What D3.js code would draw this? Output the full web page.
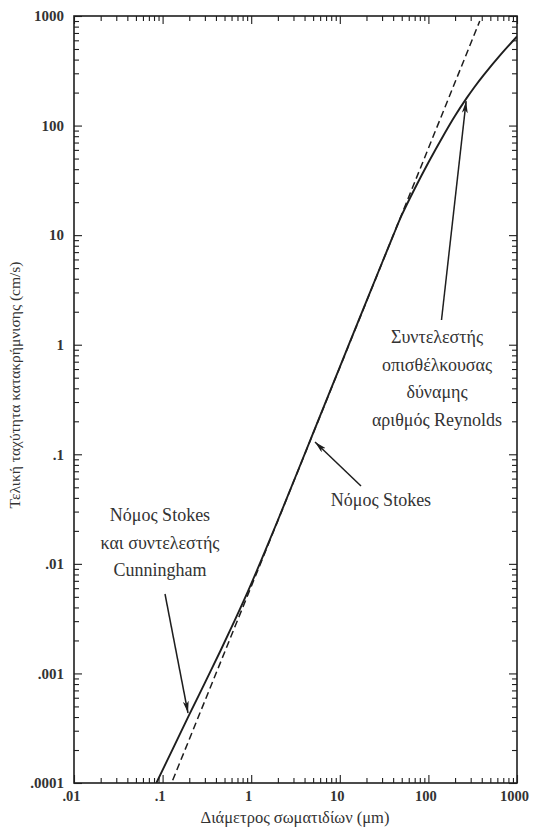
<!DOCTYPE html>
<html>
<head>
<meta charset="utf-8">
<script src="https://cdn.jsdelivr.net/npm/d3@7/dist/d3.min.js"></script>
<style>
  html, body { margin: 0; padding: 0; background: #fff; }
  svg { display: block; }
</style>
</head>
<body>
<svg id="chart" width="533" height="828"></svg>
<script>
// ---- data ----
const xTickValues = [0.01, 0.1, 1, 10, 100, 1000];
const xTickLabels = [".01", ".1", "1", "10", "100", "1000"];
const yTickValues = [0.0001, 0.001, 0.01, 0.1, 1, 10, 100, 1000];
const yTickLabels = [".0001", ".001", ".01", ".1", "1", "10", "100", "1000"];

// solid curve: actual terminal velocity (diameter in μm, velocity in cm/s)
const solidD = [0.085, 0.13, 0.2, 0.3, 0.45, 0.65, 0.9, 1.3, 2, 5, 10, 20, 30, 40, 50, 70, 100, 150, 200, 270, 330, 420, 650, 1000];
const solidV = [1.0e-4, 2.04e-4, 4.2e-4, 8.2e-4, 1.61e-3, 3.03e-3, 5.4e-3, 1.08e-2, 0.025, 0.156, 0.625, 2.5, 5.6, 9.9, 15.2, 26.5, 46, 83, 123, 178, 224, 289, 442, 650];

// dashed line: Stokes law
const dashedD = [0.13, 1, 10, 100, 380];
const dashedV = [1.06e-4, 6.2e-3, 0.62, 62, 900];

const xLabel = "Διάμετρος σωματιδίων (μm)";
const yLabel = "Τελική ταχύτητα κατακρήμνισης (cm/s)";
const noteReynolds = ["Συντελεστής", "οπισθέλκουσας", "δύναμης", "αριθμός Reynolds"];
const noteStokes = ["Νόμος Stokes"];
const noteCunningham = ["Νόμος Stokes", "και συντελεστής", "Cunningham"];

const SERIF = '"Liberation Serif", "Times New Roman", serif';

// ---- layout ----
const svg = d3.select("#chart");
const L = 74, R = 517, T = 16, B = 783;
const x = d3.scaleLog().domain([0.01, 1000]).range([L, R]);
const y = d3.scaleLog().domain([0.0001, 1000]).range([B, T]);
const ink = "#1e1e1e";
const textInk = "#333";

function minorTicks(lo, hi) {
  const out = [];
  for (let e = Math.round(Math.log10(lo)); e < Math.round(Math.log10(hi)); e++) {
    for (let k = 2; k <= 9; k++) out.push(k * Math.pow(10, e));
  }
  return out;
}
const xMinor = minorTicks(0.01, 1000);
const yMinor = minorTicks(0.0001, 1000);
const majorLen = 8, minorLen = 5;

function drawAxis(axisFn, scale, transform, major, minor) {
  const gMaj = svg.append("g").attr("transform", transform)
    .call(axisFn(scale).tickValues(major).tickSize(majorLen).tickFormat(""));
  const gMin = svg.append("g").attr("transform", transform)
    .call(axisFn(scale).tickValues(minor).tickSize(minorLen).tickFormat(""));
  [gMaj, gMin].forEach(g => {
    g.select(".domain").remove();
    g.selectAll("line").attr("stroke", ink).attr("stroke-width", 1.1);
  });
}
drawAxis(d3.axisTop, x, `translate(0,${B})`, xTickValues, xMinor);
drawAxis(d3.axisBottom, x, `translate(0,${T})`, xTickValues, xMinor);
drawAxis(d3.axisRight, y, `translate(${L},0)`, yTickValues, yMinor);
drawAxis(d3.axisLeft, y, `translate(${R},0)`, yTickValues, yMinor);

svg.append("rect").attr("x", L).attr("y", T).attr("width", R - L).attr("height", B - T)
  .attr("fill", "none").attr("stroke", ink).attr("stroke-width", 1.6);

const xl = svg.append("g").attr("transform", `translate(0,${B})`)
  .call(d3.axisBottom(x).tickValues(xTickValues).tickSize(0).tickPadding(8)
    .tickFormat((d, i) => xTickLabels[i]));
xl.select(".domain").remove();
xl.selectAll("text").attr("font-family", SERIF).attr("font-weight", "bold")
  .attr("font-size", 14.5).attr("fill", textInk).attr("dx", -3);

const yl = svg.append("g").attr("transform", `translate(${L},0)`)
  .call(d3.axisLeft(y).tickValues(yTickValues).tickSize(0).tickPadding(10)
    .tickFormat((d, i) => yTickLabels[i]));
yl.select(".domain").remove();
yl.selectAll("text").attr("font-family", SERIF).attr("font-weight", "bold")
  .attr("font-size", 15).attr("fill", textInk);

svg.append("text").attr("x", 295).attr("y", 823).attr("text-anchor", "middle")
  .attr("font-family", SERIF).attr("font-size", 16.5).attr("fill", textInk).text(xLabel);
svg.append("text").attr("transform", `translate(20,385) rotate(-90)`).attr("text-anchor", "middle")
  .attr("font-family", SERIF).attr("font-size", 15.5).attr("fill", textInk).text(yLabel);

svg.append("clipPath").attr("id", "plotclip").append("rect")
  .attr("x", L).attr("y", T).attr("width", R - L).attr("height", B - T);

svg.append("path").datum(dashedD.map((d, i) => [d, dashedV[i]]))
  .attr("clip-path", "url(#plotclip)")
  .attr("d", d3.line().x(d => x(d[0])).y(d => y(d[1])).curve(d3.curveLinear))
  .attr("fill", "none").attr("stroke", ink).attr("stroke-width", 1.5)
  .attr("stroke-dasharray", "7,4");

svg.append("path").datum(solidD.map((d, i) => [d, solidV[i]]))
  .attr("clip-path", "url(#plotclip)")
  .attr("d", d3.line().x(d => x(d[0])).y(d => y(d[1])).curve(d3.curveCatmullRom.alpha(0.5)))
  .attr("fill", "none").attr("stroke", ink).attr("stroke-width", 1.9);

const defs = svg.append("defs");
defs.append("marker").attr("id", "arrow").attr("viewBox", "0 0 12 6")
  .attr("refX", 12).attr("refY", 3).attr("markerWidth", 12).attr("markerHeight", 6)
  .attr("markerUnits", "userSpaceOnUse").attr("orient", "auto")
  .append("path").attr("d", "M0,0 L12,3 L0,6 L3,3 Z").attr("fill", ink);

function arrow(x1, y1, x2, y2) {
  svg.append("line").attr("x1", x1).attr("y1", y1).attr("x2", x2).attr("y2", y2)
    .attr("stroke", ink).attr("stroke-width", 1.5).attr("marker-end", "url(#arrow)");
}
arrow(441.5, 320, x(270) - 0.5, y(178) + 3);
arrow(361, 486, 315, 442);
arrow(165, 594, 188, 713);

function note(lines, cx, cy0, dy) {
  const t = svg.append("text").attr("text-anchor", "middle").attr("font-size", 18)
    .attr("font-family", SERIF).attr("fill", textInk);
  lines.forEach((s, i) => {
    t.append("tspan").attr("x", cx).attr("y", cy0 + i * dy).text(s);
  });
}
note(noteReynolds, 437, 343, 27.7);
note(noteStokes, 381, 506, 28);
note(noteCunningham, 160, 521, 27.5);
</script>
</body>
</html>
